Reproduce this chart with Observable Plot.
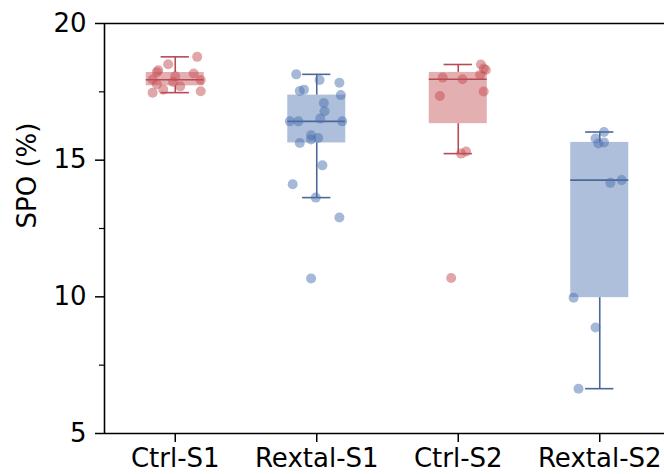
<!DOCTYPE html>
<html>
<head>
<meta charset="utf-8">
<script src="https://cdn.jsdelivr.net/npm/d3@7"></script>
<script src="https://cdn.jsdelivr.net/npm/@observablehq/plot@0.6"></script>
<style>
  html, body { margin: 0; padding: 0; background: #fff; overflow: hidden; }
  #chart svg { display: block; }
</style>
</head>
<body>
<div id="chart"></div>
<script>
// Groups along the x axis and their tick labels
const groups = ["Ctrl-S1", "Rextal-S1", "Ctrl-S2", "Rextal-S2"];
const groupKind = ["Ctrl", "Rextal", "Ctrl", "Rextal"];

// SPO (%) per sample, one array per group
const spoCtrlS1 = [18.78, 18.51, 18.29, 18.22, 18.17, 18.07, 17.95, 17.93, 17.86, 17.78, 17.70, 17.58, 17.52, 17.47];
const spoRextalS1 = [18.14, 17.93, 17.83, 17.58, 17.53, 17.38, 17.09, 16.79, 16.52, 16.42, 16.42, 16.42, 15.91, 15.81, 15.76, 15.63, 14.81, 14.12, 13.63, 12.90, 10.67];
const spoCtrlS2 = [18.50, 18.35, 18.30, 18.12, 18.02, 17.96, 17.51, 17.35, 15.32, 15.24, 10.69];
const spoRextalS2 = [16.03, 15.79, 15.65, 15.61, 14.27, 14.17, 9.97, 8.88, 6.64];

// Strip-plot jitter (fraction of a category step), same order as the values
const jitterCtrlS1 = [0.155, -0.05, -0.12, -0.13, 0.13, 0.0, -0.16, 0.18, -0.015, -0.13, 0.035, -0.085, 0.18, -0.16];
const jitterRextalS1 = [-0.145, 0.02, 0.16, -0.09, -0.12, 0.17, 0.05, 0.055, 0.025, -0.19, -0.13, 0.18, -0.04, 0.01, -0.04, -0.12, 0.04, -0.17, -0.007, 0.16, -0.04];
const jitterCtrlS2 = [0.16, 0.18, 0.195, 0.155, -0.11, 0.03, 0.18, -0.13, 0.055, 0.02, -0.05];
const jitterRextalS2 = [0.03, -0.03, 0.03, -0.01, 0.155, 0.075, -0.185, -0.03, -0.15];

// Y axis ticks
const yMajorTicks = [5, 10, 15, 20];
const yMinorTicks = [7.5, 12.5, 17.5];

const values = [spoCtrlS1, spoRextalS1, spoCtrlS2, spoRextalS2];
const jitters = [jitterCtrlS1, jitterRextalS1, jitterCtrlS2, jitterRextalS2];

const palette = {
  Ctrl:   {fill: "#c44e52", line: "#b84a55"},
  Rextal: {fill: "#4c72b0", line: "#4d6797"}
};

// Box and whisker-cap half widths, in category steps
const boxHalf = 0.205;
const capHalf = 0.1;

// Sample points
const points = groups.flatMap((g, i) =>
  values[i].map((v, j) => ({group: g, kind: groupKind[i], pos: i + jitters[i][j], value: v}))
);

// Box statistics (quartiles, 1.5 IQR whiskers)
const stats = groups.map((g, i) => {
  const s = values[i].slice().sort(d3.ascending);
  const q1 = d3.quantile(s, 0.25), med = d3.quantile(s, 0.5), q3 = d3.quantile(s, 0.75);
  const iqr = q3 - q1;
  const lo = d3.min(s.filter(v => v >= q1 - 1.5 * iqr));
  const hi = d3.max(s.filter(v => v <= q3 + 1.5 * iqr));
  return {group: g, kind: groupKind[i], i, q1, med, q3, lo, hi};
});

const xTicks = groups.map((g, i) => i);
const lineOf = d => palette[d.kind].line;
const fillOf = d => palette[d.kind].fill;
const fs = 26;

const chart = Plot.plot({
  width: 664,
  height: 474,
  marginLeft: 104,
  marginRight: 0,
  marginTop: 23,
  marginBottom: 41,
  style: {fontFamily: "DejaVu Sans", fontSize: fs + "px", color: "#000", background: "#fff"},
  x: {type: "linear", domain: [-0.5, 3.5], range: [104, 670]},
  y: {domain: [5, 20]},
  color: {type: "identity"},
  marks: [
    // boxes
    Plot.rect(stats, {x1: d => d.i - boxHalf, x2: d => d.i + boxHalf, y1: "q1", y2: "q3", fill: fillOf, fillOpacity: 0.45}),
    // whiskers
    Plot.ruleX(stats, {x: "i", y1: "q3", y2: "hi", stroke: lineOf, strokeWidth: 1.6}),
    Plot.ruleX(stats, {x: "i", y1: "lo", y2: "q1", stroke: lineOf, strokeWidth: 1.6}),
    Plot.ruleY(stats, {y: "hi", x1: d => d.i - capHalf, x2: d => d.i + capHalf, stroke: lineOf, strokeWidth: 1.6}),
    Plot.ruleY(stats, {y: "lo", x1: d => d.i - capHalf, x2: d => d.i + capHalf, stroke: lineOf, strokeWidth: 1.6}),
    // medians
    Plot.ruleY(stats, {y: "med", x1: d => d.i - boxHalf, x2: d => d.i + boxHalf, stroke: lineOf, strokeWidth: 1.6}),
    // samples
    Plot.dot(points, {x: "pos", y: "value", r: 5, fill: fillOf, fillOpacity: 0.5, stroke: "none"}),
    // spines
    Plot.ruleX([-0.5], {stroke: "#000", strokeWidth: 1.6}),
    Plot.ruleY([20], {stroke: "#000", strokeWidth: 1.6}),
    Plot.ruleY([5], {stroke: "#000", strokeWidth: 1.6}),
    // axes
    Plot.axisY(yMajorTicks, {tickSize: 9, tickPadding: 9, fontSize: fs, strokeWidth: 1.5, label: null}),
    Plot.axisY(yMinorTicks, {tickSize: 5, tickFormat: () => "", strokeWidth: 1.2, label: null}),
    Plot.axisX(xTicks, {tickSize: 9, tickPadding: 6, fontSize: fs, strokeWidth: 1.5, label: null,
      tickFormat: d => groups[d]}),
    Plot.text(["SPO (%)"], {text: d => d, frameAnchor: "left", dx: -77, rotate: -90, fontSize: fs, fill: "#000"})
  ]
});

document.getElementById("chart").appendChild(chart);
</script>
</body>
</html>
